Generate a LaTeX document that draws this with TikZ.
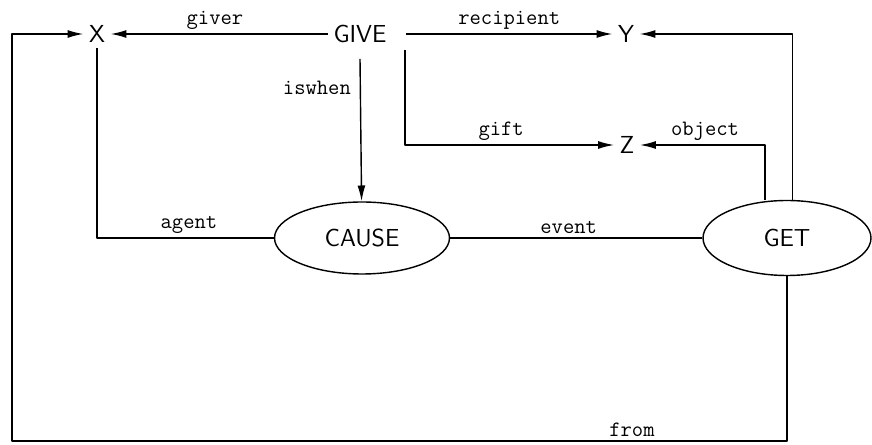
\documentclass[tikz,border=0pt]{standalone}
\usepackage{tikz}
\usetikzlibrary{shapes.geometric,arrows.meta}

\tikzset{
  concept/.style={font=\sffamily\fontsize{14}{16}\selectfont,inner sep=3pt},
  event/.style={concept,ellipse,draw,line width=.8pt},
  rel/.style={font=\ttfamily\fontsize{12.5}{14}\selectfont,inner sep=2pt},
  link/.style={line width=.8pt,-{Latex[length=9pt,width=4.5pt]}}
}

\begin{document}
\begin{tikzpicture}[x=0.02cm,y=-0.02cm,join=round] % give = cause(get)
        \useasboundingbox (0,0) rectangle (872,445);
        \node[concept] (x) at (97,34) {X};
        \node[concept] (give) at (360,34) {GIVE};
        \node[concept] (y) at (626,34) {Y};
        \node[concept] (z) at (627,145) {Z};
        \node[event,minimum width=3.5cm,minimum height=1.44cm] (cause) at (362,238) {CAUSE};
        \node[event,minimum width=3.36cm,minimum height=1.5cm] (get) at (787,238) {GET};
        \coordinate (giftout) at (405,50);
        \coordinate (corner) at (12,441);

        \draw[link] (give) -- node[rel,pos=.52,above] {giver} (x);
        \draw[link] ([xshift=8pt]give.east) -- node[rel,midway,above] {recipient} (y);
        \draw[link] ([yshift=-6pt]give.south) -- node[rel,pos=.2,left=3pt] {iswhen} (cause);
        \draw[link] (giftout) |- node[rel,pos=.73,above] {gift} (z);
        \draw[line width=.8pt] (x) |- node[rel,pos=.76,above] {agent} (cause);
        \draw[line width=.8pt] (cause) -- node[rel,pos=.47,above] {event} (get);
        \draw[link] ([xshift=-12.5pt]get.north) |- node[rel,pos=.74,above] {object} (z);
        \draw[link] ([xshift=3pt]get.north) |- (y);
        \draw[link] (get.south) |- node[rel,pos=.6,above] {from} (corner) |- (x);
\end{tikzpicture}
\end{document}
